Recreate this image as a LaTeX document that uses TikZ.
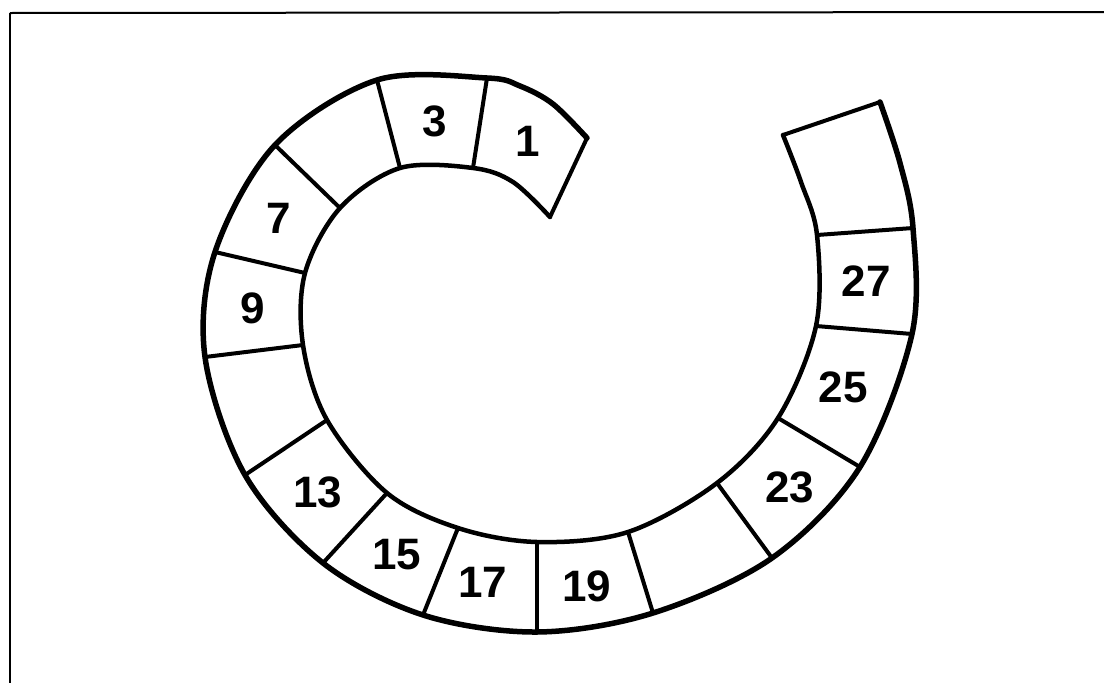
\documentclass[tikz,border=0pt]{standalone}
\usepackage{fontspec}
\setmainfont{Liberation Sans}
\begin{document}
\begin{tikzpicture}[x=1pt,y=-1pt,
  outerline/.style={line width=5.5pt,line join=round,line cap=round},
  innerline/.style={line width=4.5pt,line join=round,line cap=round},
  divider/.style={line width=4pt,line cap=round},
  framel/.style={line width=2pt},
  num/.style={font=\fontsize{44}{46}\selectfont\bfseries,inner sep=0pt}]
\useasboundingbox (0,0) rectangle (1104,683);
% frame
\coordinate (ftl) at (10,13);
\coordinate (ftr) at (1104,12);
\coordinate (fbl) at (10,683);
\draw[framel] (ftl) -- (ftr);
\draw[framel] (ftl) -- (fbl);
% outer points
\coordinate (o0) at (587,138);
\coordinate (oa1) at (553,104);
\coordinate (oa2) at (520,86);
\coordinate (o1) at (487,78);
\coordinate (o2) at (377,80);
\coordinate (o3) at (275,145);
\coordinate (o4) at (215,252);
\coordinate (o5) at (205,357);
\coordinate (o6) at (245,475);
\coordinate (o7) at (323,563);
\coordinate (o8) at (423,615);
\coordinate (o9) at (537,632);
\coordinate (o10) at (653,613);
\coordinate (o11) at (772,558);
\coordinate (o12) at (860,467);
\coordinate (o13) at (912,334);
\coordinate (o14) at (913,228);
\coordinate (ob1) at (900,163);
\coordinate (o15) at (880,102);
% inner points
\coordinate (i0) at (550,217);
\coordinate (ia1) at (513,182);
\coordinate (i1) at (473,168);
\coordinate (i2) at (400,168);
\coordinate (i3) at (340,208);
\coordinate (i4) at (305,273);
\coordinate (i5) at (303,345);
\coordinate (i6) at (327,420);
\coordinate (i7) at (387,493);
\coordinate (i8) at (458,528);
\coordinate (i9) at (537,542);
\coordinate (i10) at (628,532);
\coordinate (i11) at (717,483);
\coordinate (i12) at (778,418);
\coordinate (i13) at (816,326);
\coordinate (i14) at (817,235);
\coordinate (ib1) at (801,182);
\coordinate (i15) at (783,135);
% curves
\draw[outerline] plot[smooth,tension=0.55] coordinates {(o0) (oa1) (oa2) (o1) (o2) (o3) (o4) (o5) (o6) (o7) (o8) (o9) (o10) (o11) (o12) (o13) (o14) (ob1) (o15)};
\draw[innerline] plot[smooth,tension=0.55] coordinates {(i0) (ia1) (i1) (i2) (i3) (i4) (i5) (i6) (i7) (i8) (i9) (i10) (i11) (i12) (i13) (i14) (ib1) (i15)};
% dividers
\foreach \k in {0,...,15} {\draw[divider] (o\k) -- (i\k);}
% labels
\node[num] (n1) at (528,141) {1};
\node[num] (n3) at (435,121) {3};
\node[num] (n7) at (279,218) {7};
\node[num] (n9) at (253,308) {9};
\node[num] (n13) at (318,492) {13};
\node[num] (n15) at (397,555) {15};
\node[num] (n17) at (483,582) {17};
\node[num] (n19) at (587,586) {19};
\node[num] (n23) at (790,487) {23};
\node[num] (n25) at (843,387) {25};
\node[num] (n27) at (866,281) {27};
\end{tikzpicture}
\end{document}
